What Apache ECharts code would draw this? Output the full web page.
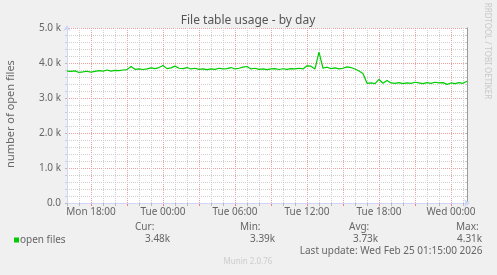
<!DOCTYPE html>
<html><head><meta charset="utf-8">
<script src="https://cdn.jsdelivr.net/npm/echarts@6/dist/echarts.min.js"></script>
<style>html,body{margin:0;padding:0;background:#f0f0f0;}#c{width:497px;height:275px;}</style>
</head><body><div id="c"></div>
<script>
const chartTitle = 'File table usage - by day';
const yAxisName = 'number of open files';
const seriesName = 'open files';
// one value every 20 minutes, from Mon 16:00 to Wed 01:20
const openFiles = [
  3770,3760,3775,3730,3745,3765,3740,3760,3780,3770,
  3800,3770,3790,3780,3800,3810,3900,3820,3830,3815,
  3830,3860,3840,3870,3930,3840,3860,3910,3850,3840,
  3870,3830,3850,3820,3830,3810,3830,3820,3850,3830,
  3840,3870,3830,3850,3880,3900,3830,3850,3820,3830,
  3810,3830,3840,3815,3835,3820,3840,3830,3850,3830,
  3920,3910,3830,4310,3850,3880,3840,3860,3830,3850,
  3890,3870,3830,3770,3700,3420,3430,3410,3530,3420,
  3500,3430,3420,3440,3410,3430,3420,3450,3430,3410,
  3440,3420,3450,3430,3440,3390,3430,3410,3440,3420,
  3480
];
const xTickLabels = ['Mon 18:00','Tue 00:00','Tue 06:00','Tue 12:00','Tue 18:00','Wed 00:00'];
const yTickLabels = ['0.0','1.0 k','2.0 k','3.0 k','4.0 k','5.0 k'];
const statNames = ['Cur:','Min:','Avg:','Max:'];
const statValues = ['3.48k','3.39k','3.73k','4.31k'];
const lastUpdate = 'Last update: Wed Feb 25 01:15:00 2026';
const watermark = 'RRDTOOL / TOBI OETIKER';
const footer = 'Munin 2.0.76';

const dayNames = ['Mon','Tue','Wed'];
const categories = openFiles.map((_, i) => {
  const m = 16 * 60 + i * 20;
  const d = Math.floor(m / 1440), hh = Math.floor((m % 1440) / 60), mm = m % 60;
  return dayNames[d] + ' ' + String(hh).padStart(2, '0') + ':' + String(mm).padStart(2, '0');
});
const isHour = i => categories[i].endsWith(':00');
const isRed = i => isHour(i) && (parseInt(categories[i].slice(4, 6), 10) % 3 === 0);

const FONT = 'Noto Sans';
const TXT = '#666666';
const AXIS = '#CFD6F8';
const GRAY = '#d0d0d0';
const RED = '#eea0a0';

const chart = echarts.init(document.getElementById('c'), null, {renderer: 'canvas'});
const statX = [[135,145],[240,250],[349,353],[456,457]];
const graphics = [
  {type:'text', x:248, y:21, style:{text:chartTitle, align:'center', verticalAlign:'middle', fill:'#555', fontSize:12, fontFamily:FONT}},
  {type:'text', x:11, y:114, rotation:Math.PI/2, style:{text:yAxisName, align:'center', verticalAlign:'middle', fill:TXT, fontSize:11, fontFamily:FONT}},
  {type:'text', x:487.5, y:51, rotation:-Math.PI/2, style:{text:watermark, align:'center', verticalAlign:'middle', fill:'#c8c8c8', fontSize:8, fontFamily:FONT}},
  {type:'rect', shape:{x:14, y:237.5, width:5, height:5}, style:{fill:'#00cc00'}},
  {type:'text', x:20, y:240, style:{text:seriesName, align:'left', verticalAlign:'middle', fill:TXT, fontSize:10, fontFamily:FONT}},
  {type:'text', x:482.5, y:251.5, style:{text:lastUpdate, align:'right', verticalAlign:'middle', fill:TXT, fontSize:10, fontFamily:FONT}},
  {type:'text', x:248, y:262, style:{text:footer, align:'center', verticalAlign:'middle', fill:'#cccccc', fontSize:8, fontFamily:FONT}}
];
statNames.forEach((n, k) => {
  graphics.push({type:'text', x:statX[k][0], y:227, style:{text:n, align:'left', verticalAlign:'middle', fill:TXT, fontSize:10, fontFamily:FONT}});
  graphics.push({type:'text', x:statX[k][1], y:239.5, style:{text:statValues[k], align:'left', verticalAlign:'middle', fill:TXT, fontSize:10, fontFamily:FONT}});
});

chart.setOption({
  animation: false,
  backgroundColor: '#f0f0f0',
  grid: {left:67, right:30, top:28, bottom:72, show:true, backgroundColor:'#ffffff', borderWidth:0},
  xAxis: [
    {
      type:'category', data:categories, boundaryGap:false, position:'bottom', z:3,
      axisLine:{show:true, lineStyle:{color:AXIS, width:1}, symbol:['none','arrow'], symbolSize:[6,6], symbolOffset:[0,3]},
      axisTick:{show:true, length:3, interval:(i) => isHour(i) && !isRed(i), lineStyle:{color:'#bbbbbb'}},
      splitLine:{show:true, interval:(i) => isHour(i) && !isRed(i), lineStyle:{color:GRAY, type:[1,1], width:1}},
      axisLabel:{show:true, interval:(i, v) => xTickLabels.includes(v), margin:4, color:TXT, fontSize:10, fontFamily:FONT,
                 formatter:(v) => xTickLabels.includes(v) ? v : ''}
    },
    {
      type:'category', data:categories, boundaryGap:false, position:'bottom', z:2,
      axisLine:{show:false},
      axisTick:{show:true, length:3, interval:(i) => isRed(i), lineStyle:{color:'#f08080'}},
      splitLine:{show:true, interval:(i) => isRed(i), lineStyle:{color:RED, type:[1,1], width:1}},
      axisLabel:{show:false}
    }
  ],
  yAxis: [
    {
      type:'value', min:0, max:5000, interval:1000, position:'left', z:3,
      axisLine:{show:true, lineStyle:{color:AXIS, width:1}, symbol:['none','arrow'], symbolSize:[6,6], symbolOffset:[0,3]},
      axisTick:{show:true, length:2, lineStyle:{color:'#bbbbbb'}},
      minorTick:{show:true, splitNumber:5, length:2, lineStyle:{color:'#cccccc'}},
      splitLine:{show:true, lineStyle:{color:RED, type:[1,1], width:1}},
      minorSplitLine:{show:true, lineStyle:{color:GRAY, type:[1,1], width:1}},
      axisLabel:{margin:6, color:TXT, fontSize:10, fontFamily:FONT, formatter:(v) => yTickLabels[Math.round(v / 1000)]}
    },
    {
      type:'value', min:0, max:5000, interval:1000, position:'right', z:3,
      axisLine:{show:true, lineStyle:{color:'#999999', width:1}},
      axisTick:{show:true, inside:true, length:2, lineStyle:{color:'#bbbbbb'}},
      minorTick:{show:true, splitNumber:5, length:2, lineStyle:{color:'#cccccc'}},
      splitLine:{show:false}, axisLabel:{show:false}
    }
  ],
  series: [{
    name: seriesName, type:'line', data:openFiles, xAxisIndex:0, yAxisIndex:0,
    showSymbol:false, symbol:'none', z:5,
    lineStyle:{color:'#00cc00', width:1.2}
  }],
  graphic: graphics
});
</script></body></html>
